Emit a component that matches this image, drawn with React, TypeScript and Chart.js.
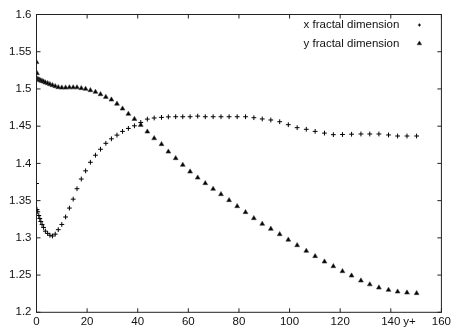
import React, { useEffect, useRef } from "react";
import { Chart, registerables } from "chart.js";

Chart.register(...registerables);

const yPlus = [
  0, 0.2, 0.5, 0.9, 1.3, 1.7, 2.2, 2.8, 3.5, 4.4,
  5.3, 6.3, 7.4, 8.6, 10, 11.5, 13, 14.5, 16, 17.7,
  19.4, 21.3, 23.3, 25.3, 27.4, 29.6, 31.8, 34, 36.3, 38.7,
  41.2, 43.8, 46.5, 49.4, 52.1, 55, 57.8, 60.7, 63.7, 66.7,
  69.8, 72.9, 76.1, 79.3, 82.6, 85.9, 89.2, 92.6, 96.1, 99.5,
  103, 106.6, 110.1, 113.8, 117.3, 120.9, 124.5, 128.2, 131.7, 135.3,
  139.1, 142.7, 146.4, 150.2,
];

const xFractal = [
  1.373, 1.338, 1.335, 1.33, 1.326, 1.322, 1.318, 1.314, 1.309, 1.306,
  1.3035, 1.3025, 1.305, 1.311, 1.318, 1.328, 1.34, 1.352, 1.366, 1.379,
  1.39, 1.4015, 1.411, 1.419, 1.427, 1.433, 1.438, 1.443, 1.447, 1.4505,
  1.455, 1.4595, 1.461, 1.4618, 1.4625, 1.4627, 1.4627, 1.4627, 1.4635, 1.4627,
  1.4627, 1.4627, 1.4627, 1.4627, 1.4627, 1.4614, 1.4597, 1.4583, 1.456, 1.452,
  1.448, 1.4458, 1.443, 1.4407, 1.4386, 1.4388, 1.4392, 1.4395, 1.4395, 1.4395,
  1.4382, 1.4368, 1.4368, 1.4368,
];

const yFractal = [
  1.536, 1.521, 1.5134, 1.5125, 1.512, 1.5112, 1.5105, 1.5098, 1.5086, 1.5076,
  1.5063, 1.505, 1.5036, 1.5022, 1.5017, 1.5017, 1.502, 1.502, 1.502, 1.5009,
  1.5, 1.4982, 1.496, 1.4928, 1.4892, 1.4856, 1.48, 1.4735, 1.4664, 1.4595,
  1.4516, 1.4426, 1.4337, 1.4257, 1.4157, 1.4069, 1.3979, 1.3889, 1.3808, 1.3733,
  1.3657, 1.3585, 1.3505, 1.3424, 1.3344, 1.3263, 1.3187, 1.312, 1.3048, 1.2974,
  1.29, 1.2824, 1.2753, 1.268, 1.2618, 1.2551, 1.2492, 1.2425, 1.2374, 1.2331,
  1.23, 1.2277, 1.2264, 1.2256,
];

const xTicks = [0, 20, 40, 60, 80, 100, 120, 140, 160];
const yTicks = [1.2, 1.25, 1.3, 1.35, 1.4, 1.45, 1.5, 1.55, 1.6];
const seriesLabels = ["x fractal dimension", "y fractal dimension"];
const axisLabel = "y+";

const FONT = "'Liberation Sans', Arial, Helvetica, sans-serif";
const FONT_SIZE = 11.5;
const INK = "#111";

const framePlugin = {
  id: "gnuplotFrame",
  afterDraw(chart: any) {
    const { ctx, chartArea: a, scales } = chart;
    const xs = scales.x;
    const ys = scales.y;
    ctx.save();
    ctx.strokeStyle = "#222";
    ctx.lineWidth = 1;
    ctx.strokeRect(a.left, a.top, a.right - a.left, a.bottom - a.top);
    const tl = 4;
    ctx.beginPath();
    for (const v of xTicks) {
      const px = xs.getPixelForValue(v);
      ctx.moveTo(px, a.bottom);
      ctx.lineTo(px, a.bottom - tl);
      ctx.moveTo(px, a.top);
      ctx.lineTo(px, a.top + tl);
    }
    for (const v of yTicks) {
      const py = ys.getPixelForValue(v);
      ctx.moveTo(a.left, py);
      ctx.lineTo(a.left + tl, py);
      ctx.moveTo(a.right, py);
      ctx.lineTo(a.right - tl, py);
    }
    ctx.stroke();

    ctx.font = `${FONT_SIZE}px ${FONT}`;
    ctx.fillStyle = INK;
    ctx.textBaseline = "alphabetic";
    ctx.textAlign = "left";
    ctx.fillText(axisLabel, xs.getPixelForValue(140) + 12.5, a.bottom + 12.2);

    // legend
    ctx.textBaseline = "middle";
    ctx.textAlign = "right";
    const textRight = a.right - 42;
    const markX = a.right - 22;
    const rows = [a.top + 10.5, a.top + 29];
    ctx.fillText(seriesLabels[0], textRight, rows[0]);
    ctx.fillText(seriesLabels[1], textRight, rows[1]);
    // plus marker
    ctx.strokeStyle = "#000";
    ctx.lineWidth = 1;
    ctx.beginPath();
    ctx.moveTo(markX - 1.5, rows[0]);
    ctx.lineTo(markX + 1.5, rows[0]);
    ctx.moveTo(markX, rows[0] - 1.5);
    ctx.lineTo(markX, rows[0] + 1.5);
    ctx.stroke();
    // triangle marker
    const r = 2.6;
    ctx.fillStyle = "#000";
    ctx.strokeStyle = "#444";
    ctx.lineWidth = 0.6;
    ctx.beginPath();
    ctx.moveTo(markX, rows[1] - r);
    ctx.lineTo(markX + r * 0.866, rows[1] + r * 0.5);
    ctx.lineTo(markX - r * 0.866, rows[1] + r * 0.5);
    ctx.closePath();
    ctx.fill();
    ctx.stroke();
    ctx.restore();
  },
};

export default function App() {
  const ref = useRef<HTMLCanvasElement | null>(null);

  useEffect(() => {
    if (!ref.current) return;
    const chart = new Chart(ref.current, {
      type: "scatter",
      data: {
        datasets: [
          {
            label: seriesLabels[0],
            data: yPlus.map((x, i) => ({ x, y: xFractal[i] })),
            pointStyle: "cross",
            pointRadius: 2.4,
            borderColor: "#000",
            backgroundColor: "#000",
            borderWidth: 1,
            showLine: false,
          },
          {
            label: seriesLabels[1],
            data: yPlus.map((x, i) => ({ x, y: yFractal[i] })),
            pointStyle: "triangle",
            pointRadius: 2.8,
            borderColor: "#444",
            backgroundColor: "#000",
            borderWidth: 0.6,
            showLine: false,
          },
        ],
      },
      options: {
        responsive: false,
        animation: false,
        layout: { padding: { top: 14.5, right: 10, left: 0, bottom: 0 } },
        plugins: {
          legend: { display: false },
          tooltip: { enabled: false },
        },
        scales: {
          x: {
            type: "linear",
            min: 0,
            max: 160,
            afterBuildTicks: (s: any) => {
              s.ticks = xTicks.map((v) => ({ value: v }));
            },
            afterFit: (s: any) => {
              s.height = 14.7;
            },
            grid: { display: false, drawTicks: false },
            border: { display: false },
            ticks: {
              autoSkip: false,
              maxRotation: 0,
              padding: 3,
              color: INK,
              font: { family: FONT, size: FONT_SIZE },
              callback: (v: any) => String(v),
            },
          },
          y: {
            type: "linear",
            min: 1.2,
            max: 1.6,
            afterBuildTicks: (s: any) => {
              s.ticks = yTicks.map((v) => ({ value: v }));
            },
            afterFit: (s: any) => {
              s.width = 36.5;
            },
            grid: { display: false, drawTicks: false },
            border: { display: false },
            ticks: {
              autoSkip: false,
              padding: 5,
              color: INK,
              font: { family: FONT, size: FONT_SIZE },
              callback: (v: any) => String(Number(Number(v).toFixed(2))),
            },
          },
        },
      },
      plugins: [framePlugin],
    });
    return () => chart.destroy();
  }, []);

  return (
    <div style={{ position: "fixed", left: 0, top: 0, width: 454, height: 327, background: "#fff" }}>
      <canvas ref={ref} width={454} height={327} style={{ display: "block", width: 454, height: 327 }} />
    </div>
  );
}
